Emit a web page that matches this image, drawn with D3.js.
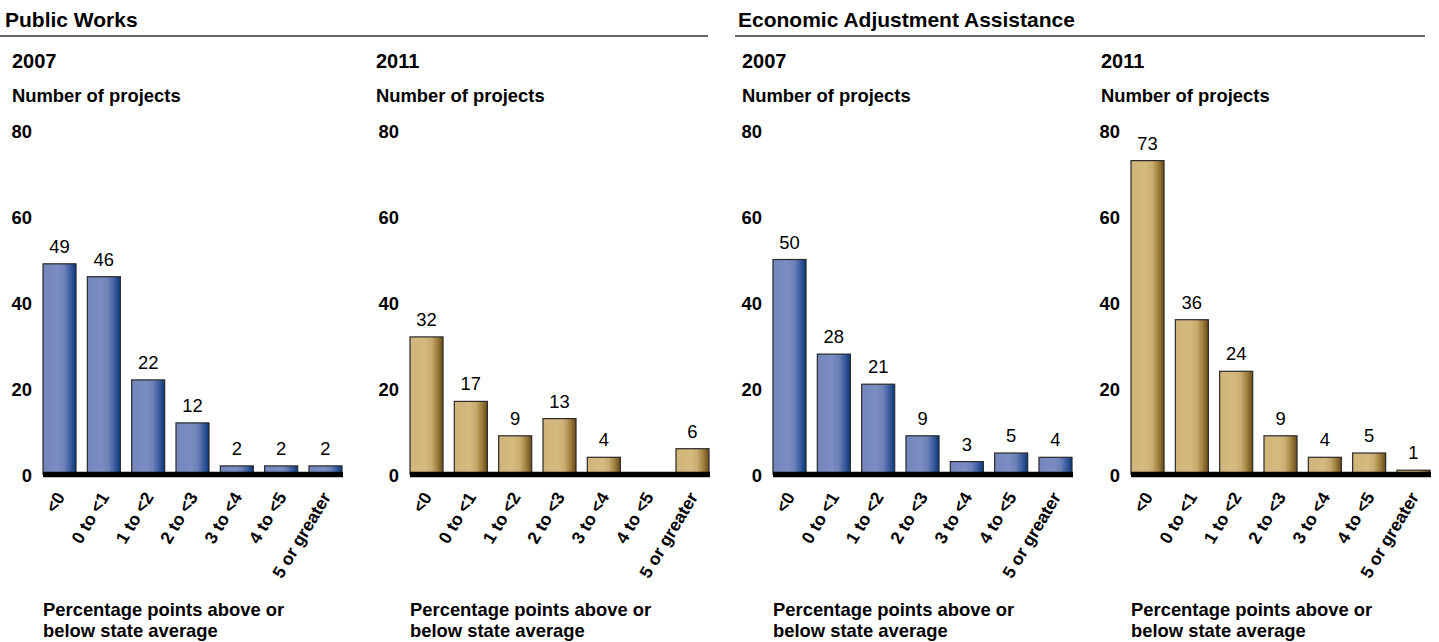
<!DOCTYPE html>
<html>
<head>
<meta charset="utf-8">
<script src="https://cdn.jsdelivr.net/npm/d3@7"></script>
<style>
  html, body { margin: 0; padding: 0; background: #fff; }
  svg { display: block; font-family: "Liberation Sans", Arial, sans-serif; }
</style>
</head>
<body>
<svg id="chart" width="1439" height="642"></svg>
<script>
// Distribution of projects by unemployment rate relative to the state average
const categories = ["<0", "0 to <1", "1 to <2", "2 to <3", "3 to <4", "4 to <5", "5 or greater"];
const publicWorks2007 = [49, 46, 22, 12, 2, 2, 2];
const publicWorks2011 = [32, 17, 9, 13, 4, 0, 6];
const adjustment2007 = [50, 28, 21, 9, 3, 5, 4];
const adjustment2011 = [73, 36, 24, 9, 4, 5, 1];
const yTicks = [0, 20, 40, 60, 80];
const programTitles = ["Public Works", "Economic Adjustment Assistance"];
const yearLabels = ["2007", "2011"];

const svg = d3.select("#chart");
const defs = svg.append("defs");

function addGradient(id, stops) {
  const g = defs.append("linearGradient").attr("id", id)
    .attr("x1", "0%").attr("x2", "100%").attr("y1", "0%").attr("y2", "0%");
  stops.forEach(([o, c]) => g.append("stop").attr("offset", o).attr("stop-color", c));
}
addGradient("blueBar", [["0%", "#7386bd"], ["45%", "#7b8dc1"], ["65%", "#6c80b8"], ["82%", "#3e5e9f"], ["100%", "#0a397a"]]);
addGradient("goldBar", [["0%", "#d0b479"], ["45%", "#d5ba80"], ["65%", "#c8ab70"], ["82%", "#a2823f"], ["100%", "#6a4a1a"]]);

// Section headings with their rules
const sections = [
  { title: programTitles[0], x: 5, x0: 0, x1: 708 },
  { title: programTitles[1], x: 738, x0: 735, x1: 1425 }
];
sections.forEach(s => {
  svg.append("text").attr("x", s.x).attr("y", 27)
    .attr("font-size", 21).attr("font-weight", "bold").attr("fill", "#000").text(s.title);
  svg.append("line").attr("x1", s.x0).attr("x2", s.x1).attr("y1", 36).attr("y2", 36)
    .attr("stroke", "#333").attr("stroke-width", 1.5);
});

const y = d3.scaleLinear().domain([0, 80]).range([474.5, 130.5]);

const panels = [
  { year: yearLabels[0], values: publicWorks2007, fill: "url(#blueBar)", left: 43, titleX: 12 },
  { year: yearLabels[1], values: publicWorks2011, fill: "url(#goldBar)", left: 410, titleX: 376 },
  { year: yearLabels[0], values: adjustment2007, fill: "url(#blueBar)", left: 773, titleX: 742 },
  { year: yearLabels[1], values: adjustment2011, fill: "url(#goldBar)", left: 1131, titleX: 1101 }
];

const plotWidth = 299;

panels.forEach(p => {
  const g = svg.append("g");
  const x = d3.scaleBand().domain(categories).range([p.left, p.left + plotWidth])
    .paddingInner(0.255).paddingOuter(0);
  const rows = categories.map((c, i) => ({ c, v: p.values[i] }));

  g.append("text").attr("x", p.titleX).attr("y", 68)
    .attr("font-size", 20).attr("font-weight", "bold").text(p.year);
  g.append("text").attr("x", p.titleX).attr("y", 102)
    .attr("font-size", 18.4).attr("font-weight", "bold").text("Number of projects");

  // Value axis: labels only
  const yAxis = d3.axisLeft(y).tickValues(yTicks).tickSize(0).tickPadding(0);
  const ya = g.append("g").attr("transform", `translate(${p.left - 11},0)`).call(yAxis);
  ya.select(".domain").remove();
  ya.selectAll("text").attr("font-size", 18.4).attr("font-weight", "bold")
    .attr("fill", "#000").attr("font-family", "Liberation Sans, Arial, sans-serif")
    .attr("dy", "0.36em");

  // Bars
  g.selectAll("rect.bar").data(rows.filter(d => d.v > 0)).join("rect")
    .attr("class", "bar")
    .attr("x", d => x(d.c))
    .attr("width", x.bandwidth())
    .attr("y", d => y(d.v))
    .attr("height", d => y(0) - y(d.v))
    .attr("fill", p.fill)
    .attr("stroke", "#2a2a2a").attr("stroke-width", 1.2);

  // Value labels
  g.selectAll("text.val").data(rows.filter(d => d.v > 0)).join("text")
    .attr("class", "val")
    .attr("x", d => x(d.c) + x.bandwidth() / 2)
    .attr("y", d => y(d.v) - 11)
    .attr("text-anchor", "middle").attr("font-size", 18.4).attr("fill", "#000")
    .text(d => d.v);

  // Baseline
  g.append("line").attr("x1", p.left).attr("x2", p.left + plotWidth + 1)
    .attr("y1", y(0)).attr("y2", y(0)).attr("stroke", "#000").attr("stroke-width", 5.5);

  // Category labels
  const xAxis = d3.axisBottom(x).tickSize(0).tickPadding(0);
  const xa = g.append("g").call(xAxis);
  xa.select(".domain").remove();
  xa.selectAll(".tick").attr("transform", null);
  xa.selectAll("text")
    .attr("font-size", 17.5).attr("font-weight", "bold").attr("fill", "#000")
    .attr("font-family", "Liberation Sans, Arial, sans-serif")
    .attr("y", null).attr("dy", null)
    .attr("text-anchor", "end")
    .attr("transform", d => `translate(${x(d) + x.bandwidth() / 2 + 6},497) rotate(-59)`);

  // Axis title
  const t = g.append("text").attr("x", p.left).attr("y", 616)
    .attr("font-size", 18.4).attr("font-weight", "bold");
  t.append("tspan").attr("x", p.left).text("Percentage points above or");
  t.append("tspan").attr("x", p.left).attr("dy", 21).text("below state average");
});
</script>
</body>
</html>
